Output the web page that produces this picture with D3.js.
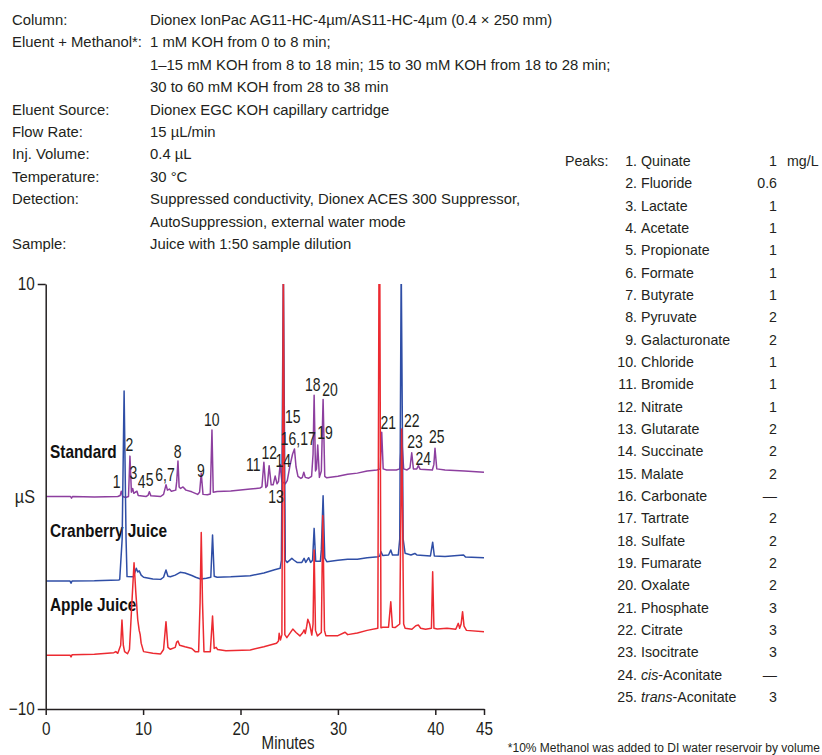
<!DOCTYPE html>
<html>
<head>
<meta charset="utf-8">
<script src="https://cdn.jsdelivr.net/npm/d3@7"></script>
<style>
  html, body { margin: 0; padding: 0; background: #fff; }
  svg { display: block; font-family: "Liberation Sans", Arial, sans-serif; }
</style>
</head>
<body>
<svg id="chart" width="822" height="755"></svg>
<script>
// ---------------- DATA ----------------
const infoLabels = ["Column:", "Eluent + Methanol*:", "", "", "Eluent Source:", "Flow Rate:",
  "Inj. Volume:", "Temperature:", "Detection:", "", "Sample:"];
const infoValues = [
  "Dionex IonPac AG11-HC-4µm/AS11-HC-4µm (0.4 × 250 mm)",
  "1 mM KOH from 0 to 8 min;",
  "1–15 mM KOH from 8 to 18 min; 15 to 30 mM KOH from 18 to 28 min;",
  "30 to 60 mM KOH from 28 to 38 min",
  "Dionex EGC KOH capillary cartridge",
  "15 µL/min",
  "0.4 µL",
  "30 °C",
  "Suppressed conductivity, Dionex ACES 300 Suppressor,",
  "AutoSuppression, external water mode",
  "Juice with 1:50 sample dilution"];

const peakNames = ["Quinate","Fluoride","Lactate","Acetate","Propionate","Formate","Butyrate",
  "Pyruvate","Galacturonate","Chloride","Bromide","Nitrate","Glutarate","Succinate","Malate",
  "Carbonate","Tartrate","Sulfate","Fumarate","Oxalate","Phosphate","Citrate","Isocitrate",
  "cis-Aconitate","trans-Aconitate"];
const peakConc = ["1","0.6","1","1","1","1","1","2","2","1","1","1","2","2","2","—","2","2","2","2","3","3","3","—","3"];
const concUnit = "mg/L";

const xTicks = [0, 10, 20, 30, 40, 45];
const yTicks = [-10, 10];
const xTitle = "Minutes";
const yTitle = "µS";
const footnote = "*10% Methanol was added to DI water reservoir by volume";

const seriesNames = ["Standard", "Cranberry Juice", "Apple Juice"];
const seriesColors = ["#8d3f9f", "#2f4ea6", "#ec2a31"];

// [minutes, µS]
const standard = [[0,0.0],[2.55,0.0],[2.65,-0.08],[2.75,0.0],[5,-0.02],[7.4,0.0],[7.65,0.05],[7.76,0.25],
  [7.9,0.0],[8.2,-0.05],[8.5,0.0],[8.65,1.9],[8.8,0.2],[8.93,0.38],[9.05,0.15],[9.2,0.2],[9.37,0.25],
  [9.5,0.05],[10.3,0.0],[10.5,0.05],[10.64,0.22],[10.8,0.03],[11.8,0.0],[12.1,0.1],[12.35,0.55],
  [12.5,0.3],[12.7,0.35],[12.9,0.25],[13.35,0.3],[13.45,0.7],[13.58,1.67],[13.7,0.45],[13.85,0.38],
  [14.1,0.45],[14.4,0.3],[15.0,0.22],[15.6,0.1],[15.8,0.2],[15.97,1.09],[16.15,0.1],[16.6,0.08],
  [16.9,0.12],[17.07,3.13],[17.2,0.2],[17.6,0.24],[19,0.26],[21,0.35],[22.0,0.4],[22.2,0.45],
  [22.4,1.61],[22.6,0.42],[22.75,0.5],[22.94,1.45],[23.15,0.55],[23.35,0.55],[23.56,0.96],[23.75,0.6],
  [23.9,0.7],[24.07,1.51],[24.25,0.7],[24.6,0.6],[24.8,0.75],[25.1,1.5],[25.35,2.0],[25.54,2.24],
  [25.7,1.4],[25.9,0.95],[26.2,0.85],[26.35,0.9],[26.5,1.14],[26.65,0.9],[27.0,0.86],[27.3,0.95],
  [27.45,2.0],[27.56,4.76],[27.7,1.2],[27.8,1.3],[27.93,2.42],[28.1,0.9],[28.3,1.2],[28.48,4.57],
  [28.65,0.95],[28.86,0.88],[30,0.95],[31,1.05],[32,1.1],[33,1.2],[34,1.25],[34.35,1.3],[34.5,3.02],
  [34.65,1.3],[35,1.25],[36,1.25],[36.35,1.3],[36.55,2.8],[36.75,1.3],[37.1,1.25],[37.4,1.35],
  [37.58,2.06],[37.75,1.3],[38.1,1.3],[38.26,1.45],[38.45,1.28],[39.7,1.25],[39.85,1.5],[39.97,2.27],
  [40.15,1.3],[41,1.25],[43,1.2],[45,1.14]];

const cranberry = [[0,-3.98],[2.5,-3.98],[2.6,-4.08],[2.7,-3.98],[5,-3.97],[7.5,-3.93],[7.6,-3.9],
  [7.85,-2.0],[8.05,4.96],[8.25,-2.0],[8.35,-3.77],[9.0,-3.78],[9.3,-3.38],[9.45,-3.55],[9.6,-3.5],
  [9.8,-3.7],[10.05,-3.8],[11.0,-3.88],[11.8,-3.9],[12.1,-3.8],[12.35,-3.46],[12.55,-3.75],[12.8,-3.78],
  [13.3,-3.7],[13.8,-3.57],[14.3,-3.6],[15.0,-3.72],[15.4,-3.8],[15.9,-3.88],[16.5,-3.85],[16.95,-3.8],
  [17.13,-1.81],[17.3,-3.75],[17.6,-3.8],[19,-3.78],[21,-3.73],[22.4,-3.6],[23.5,-3.45],[24.07,-3.38],
  [24.2,-3.0],[24.4,11],[24.6,-3.0],[24.8,-3.1],[25.27,-2.91],[25.5,-3.0],[25.8,-3.1],[26.3,-3.1],
  [26.53,-2.91],[26.7,-3.1],[27.0,-2.88],[27.2,-3.1],[27.4,-3.0],[27.56,-1.5],[27.72,-3.05],[28.2,-3.05],
  [28.3,-2.5],[28.48,0.04],[28.65,-2.9],[28.86,-3.07],[30,-3.0],[31,-2.95],[32,-2.95],[33,-2.88],
  [34.15,-2.83],[34.3,-2.8],[34.43,-2.6],[34.6,-2.78],[35.2,-2.75],[35.43,-2.52],[35.6,-2.75],
  [36.2,-2.75],[36.35,-2.0],[36.5,11],[36.7,-2.0],[36.9,-2.67],[37.5,-2.75],[37.9,-2.68],[38.1,-2.75],
  [39.5,-2.8],[39.73,-2.15],[39.9,-2.8],[41,-2.82],[42.9,-2.75],[43.1,-2.85],[45,-2.88]];

const apple = [[0,-7.47],[2.5,-7.47],[2.6,-7.55],[2.7,-7.45],[5,-7.42],[7.0,-7.35],[7.2,-7.3],
  [7.4,-7.38],[7.7,-7.0],[7.83,-5.81],[7.97,-7.0],[8.1,-7.3],[8.4,-7.4],[8.6,-7.2],[8.85,-5.0],
  [9.07,-3.12],[9.25,-4.5],[9.45,-5.8],[9.6,-6.3],[9.7,-6.5],[9.8,-6.9],[10.05,-7.3],[11.0,-7.38],
  [11.8,-7.41],[12.1,-7.2],[12.35,-5.89],[12.55,-7.1],[12.8,-7.19],[13.3,-7.1],[13.45,-6.85],
  [13.58,-6.8],[13.75,-7.0],[14.3,-7.07],[15.0,-7.15],[15.35,-7.3],[15.7,-7.3],[15.85,-5.0],
  [15.97,-1.69],[16.1,-5.0],[16.25,-7.3],[16.9,-7.3],[17.13,-5.62],[17.3,-7.15],[17.5,-7.1],
  [17.65,-7.2],[18.5,-7.26],[21,-7.22],[22.4,-7.07],[23.7,-6.91],[23.9,-6.8],[23.97,-6.44],
  [24.1,-6.75],[24.25,-6.5],[24.4,11],[24.55,-6.5],[24.76,-6.64],[25.37,-6.24],[25.7,-6.4],
  [26.1,-6.56],[26.4,-6.4],[26.53,-6.28],[26.65,-6.45],[26.8,-6.1],[26.91,-5.78],[27.1,-6.0],
  [27.32,-6.52],[27.45,-6.0],[27.56,-2.52],[27.7,-6.3],[27.9,-6.56],[28.3,-6.4],[28.45,-0.9],
  [28.62,-6.3],[28.76,-6.55],[30.0,-6.55],[30.74,-6.39],[31.0,-6.5],[32,-6.42],[33,-6.3],[34.1,-6.2],
  [34.22,11],[34.3,11],[34.42,-6.18],[34.6,-6.15],[35.2,-6.15],[35.43,-4.95],[35.6,-6.15],[35.87,-6.17],
  [36.35,-6.0],[36.55,3.18],[36.75,-6.0],[36.9,-6.2],[37.6,-6.25],[38.0,-6.08],[38.26,-6.05],
  [38.5,-6.2],[39.0,-6.25],[39.6,-6.2],[39.73,-3.54],[39.86,-6.2],[40.2,-6.24],[41.2,-6.2],
  [42.1,-6.25],[42.36,-5.97],[42.5,-6.2],[42.65,-6.0],[42.8,-5.42],[42.95,-6.1],[43.2,-6.3],[45,-6.36]];

// peak-number annotations: [text, minutes, µS]
const peakLabels = [["1",7.29,0.70],["2",8.58,2.42],["3",9.01,1.1],["4",9.84,0.7],["5",10.67,0.78],
  ["6,7",12.25,1.01],["8",13.55,2.11],["9",15.94,1.2],["10",17.04,3.6],["11",21.31,1.48],
  ["12",22.96,2.06],["13",23.64,-0.01],["14",24.39,1.68],["15",25.36,3.76],["16,17",25.93,2.71],
  ["18",27.41,5.25],["19",28.68,3.02],["20",29.19,5.01],["21",35.17,3.49],["22",37.58,3.57],
  ["23",37.92,2.58],["24",38.77,1.8],["25",40.14,2.81]];

// ---------------- DRAW ----------------
const svg = d3.select("#chart");
const x = d3.scaleLinear().domain([0, 45]).range([45.7, 484]);
const y = d3.scaleLinear().domain([-10, 10]).range([709, 284]);
const ink = "#231f20";

// condensed-looking text: regular face squeezed horizontally about its anchor
function condText(g, tx, ty, txt, size, sx, anchor, weight) {
  return g.append("text")
    .attr("transform", `translate(${tx},${ty}) scale(${sx},1)`)
    .attr("font-size", size).attr("text-anchor", anchor || "start")
    .attr("font-weight", weight || "normal").attr("fill", ink).text(txt);
}

// header info
const info = svg.append("g").attr("font-size", 14.85).attr("fill", ink);
infoLabels.forEach((t, i) => {
  const yy = 25 + i * 22.4;
  if (t) info.append("text").attr("x", 12).attr("y", yy).text(t);
  info.append("text").attr("x", 150).attr("y", yy).text(infoValues[i]);
});

// peaks table
const tbl = svg.append("g").attr("font-size", 14.2).attr("fill", ink);
tbl.append("text").attr("x", 565).attr("y", 166).text("Peaks:");
peakNames.forEach((n, i) => {
  const yy = 166 + i * 22.33;
  tbl.append("text").attr("x", 637).attr("y", yy).attr("text-anchor", "end").text((i + 1) + ".");
  const t = tbl.append("text").attr("x", 641).attr("y", yy);
  const m = n.match(/^(cis|trans)(-.*)$/);
  if (m) {
    t.append("tspan").attr("font-style", "italic").text(m[1]);
    t.append("tspan").text(m[2]);
  } else t.text(n);
  tbl.append("text").attr("x", 777).attr("y", yy).attr("text-anchor", "end").text(peakConc[i]);
  if (i === 0) tbl.append("text").attr("x", 787).attr("y", yy).text(concUnit);
});

svg.append("text").attr("x", 820).attr("y", 752).attr("text-anchor", "end")
  .attr("font-size", 12).attr("fill", ink).text(footnote);

// series labels
const seriesLabelY = [458, 537, 611];
const lab = svg.append("g");
seriesNames.forEach((n, i) => {
  condText(lab, 50, seriesLabelY[i], n, 17.5, 0.88, "start", "bold").attr("fill", "#111");
});

// traces
svg.append("clipPath").attr("id", "plotclip").append("rect")
  .attr("x", 46).attr("y", y(10)).attr("width", 440).attr("height", y(-10) - y(10));
const line = d3.line().x(d => x(d[0])).y(d => y(d[1]));
const traces = svg.append("g").attr("clip-path", "url(#plotclip)");
[standard, cranberry, apple].forEach((s, i) => {
  traces.append("path").datum(s).attr("d", line).attr("fill", "none")
    .attr("stroke", seriesColors[i]).attr("stroke-width", 1.5).attr("stroke-linejoin", "round");
});

// peak labels
const pl = svg.append("g");
peakLabels.forEach(d => {
  condText(pl, x(d[1]), y(d[2]), d[0], 17.5, 0.8, "middle").attr("dy", "0.36em");
});

// axes
const xAxis = svg.append("g").attr("transform", `translate(0,${y(-10)})`)
  .call(d3.axisBottom(x).tickValues(xTicks).tickSize(6).tickSizeOuter(0).tickPadding(7));
const yAxis = svg.append("g").attr("transform", `translate(${x(0)},0)`)
  .call(d3.axisLeft(y).tickValues(yTicks).tickSize(8).tickSizeOuter(0).tickPadding(3));
[xAxis, yAxis].forEach(a => {
  a.selectAll("path, line").attr("stroke", ink).attr("stroke-width", 1.5);
  a.selectAll("text").attr("font-size", 18).attr("fill", ink)
    .attr("font-family", "Liberation Sans, Arial, sans-serif");
});
xAxis.selectAll(".tick text").attr("transform", "scale(0.85,1)");
yAxis.selectAll(".tick text").each(function () {
  const t = d3.select(this);
  const tx = +t.attr("x");
  t.attr("x", 0).attr("transform", `translate(${tx},0) scale(0.85,1)`);
});
condText(svg, 288, 749, xTitle, 18, 0.84, "middle");
condText(svg, 35, y(0), yTitle, 18, 0.9, "end").attr("dy", "0.36em");
</script>
</body>
</html>
